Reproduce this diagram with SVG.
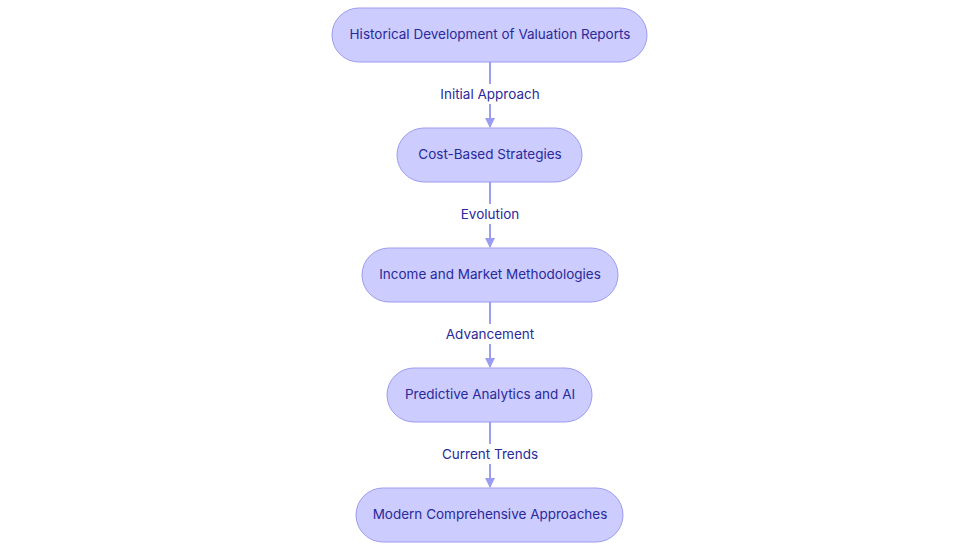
<svg xmlns="http://www.w3.org/2000/svg" width="980" height="553" viewBox="0 0 980 553">
<defs>
<style>
.n rect{fill:#ccccff;stroke:#9c9cf0;stroke-width:1}
.n text{font-family:Inter,"Liberation Sans",sans-serif;font-size:13.5px;fill:#2a2a9a;text-anchor:middle;dominant-baseline:central}
.e line{stroke:#9c9cf0;stroke-width:2}
.e rect{fill:#ffffff}
.e text{font-family:Inter,"Liberation Sans",sans-serif;font-size:13.5px;fill:#2a2a9a;text-anchor:middle;dominant-baseline:central}
</style>
<marker id="a" markerWidth="10" markerHeight="10" refX="9" refY="5" orient="auto" markerUnits="userSpaceOnUse"><path d="M0,0L10,5L0,10z" fill="#9c9cf0"/></marker>
</defs>
<rect width="980" height="553" fill="#ffffff"/>
<g class="e">
<line x1="490" y1="62" x2="490" y2="127" marker-end="url(#a)"/>
<line x1="490" y1="182" x2="490" y2="247" marker-end="url(#a)"/>
<line x1="490" y1="302" x2="490" y2="367" marker-end="url(#a)"/>
<line x1="490" y1="422" x2="490" y2="487" marker-end="url(#a)"/>
<rect x="439" y="84" width="102" height="20"/><text x="490" y="94">Initial Approach</text>
<rect x="458" y="204" width="64" height="20"/><text x="490" y="214">Evolution</text>
<rect x="443" y="324" width="94" height="20"/><text x="490" y="334">Advancement</text>
<rect x="441" y="444" width="98" height="20"/><text x="490" y="454">Current Trends</text>
</g>
<g id="n1" class="n"><rect x="332" y="8" width="315" height="54" rx="27"/><text x="490" y="34">Historical Development of Valuation Reports</text></g>
<g id="n2" class="n"><rect x="397" y="128" width="185" height="54" rx="27"/><text x="490" y="154">Cost-Based Strategies</text></g>
<g id="n3" class="n"><rect x="362" y="248" width="256" height="54" rx="27"/><text x="490" y="274">Income and Market Methodologies</text></g>
<g id="n4" class="n"><rect x="387" y="368" width="205" height="54" rx="27"/><text x="490" y="394">Predictive Analytics and AI</text></g>
<g id="n5" class="n"><rect x="356" y="488" width="267" height="54" rx="27"/><text x="490" y="514">Modern Comprehensive Approaches</text></g>
</svg>
